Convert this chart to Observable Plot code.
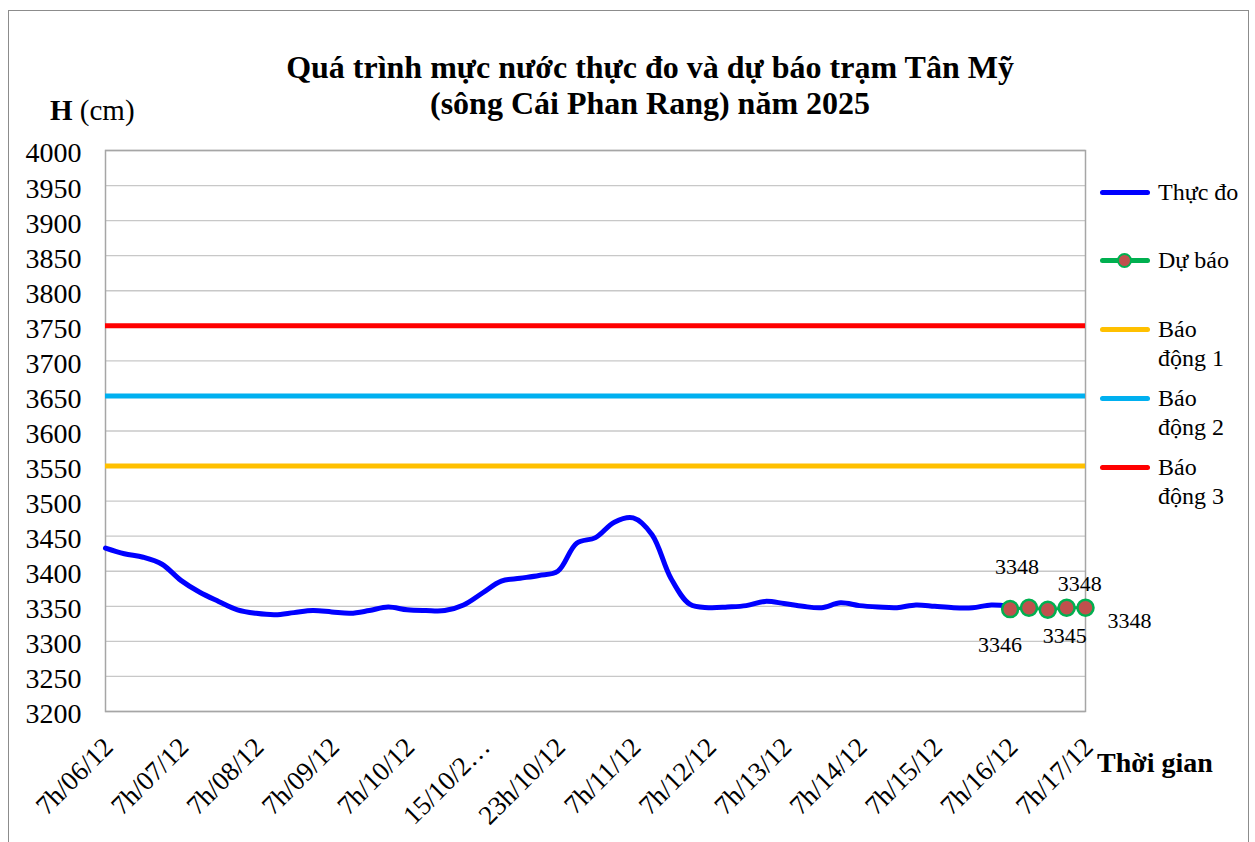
<!DOCTYPE html>
<html>
<head>
<meta charset="utf-8">
<script src="https://cdn.jsdelivr.net/npm/d3@7"></script>
<script src="https://cdn.jsdelivr.net/npm/@observablehq/plot@0.6"></script>
<style>
  html, body { margin: 0; padding: 0; background: #fff; }
  #wrap { position: relative; width: 1255px; height: 842px; overflow: hidden; font-family: "Liberation Serif", "Times New Roman", serif; color: #000; }
  #border { position: absolute; left: 8px; top: 10px; width: 1241px; height: 900px; border: 1px solid #8c8c8c; box-sizing: border-box; }
  #chart { position: absolute; left: 0; top: 0; }
  #chart svg, #chart svg text { font-family: "Liberation Serif", "Times New Roman", serif !important; }
  .abs { position: absolute; white-space: nowrap; }
  #title { left: 150px; width: 1000px; top: 49px; text-align: center; font-weight: bold; font-size: 32px; line-height: 36px; }
  #ylab { left: 50px; top: 94px; font-size: 29px; }
  #xlab { left: 1097px; top: 747px; font-size: 28px; font-weight: bold; }
  .leg { position: absolute; left: 1100px; font-size: 24px; line-height: 29px; }
  .sw { position: absolute; left: 0; width: 50px; height: 5px; border-radius: 3px; }
  .lt { position: absolute; left: 58px; top: 0; white-space: nowrap; }
</style>
</head>
<body>
<div id="wrap">
  <div id="border"></div>
  <div id="chart"></div>
  <div id="title" class="abs">Quá trình mực nước thực đo và dự báo trạm Tân Mỹ<br>(sông Cái Phan Rang) năm 2025</div>
  <div id="ylab" class="abs"><b>H</b> (cm)</div>
  <div id="xlab" class="abs">Thời gian</div>
  <div id="legend"></div>
</div>
<script>
// ---- data ----
const timeLabels = ["7h/06/12","7h/07/12","7h/08/12","7h/09/12","7h/10/12","15/10/2…","23h/10/12","7h/11/12","7h/12/12","7h/13/12","7h/14/12","7h/15/12","7h/16/12","7h/17/12"];
const pointsPerLabel = 4;
const observed = [3433,3425,3420,3410,3387,3370,3357,3345,3340,3338,
                  3341,3344,3342,3340,3344,3349,3345,3344,3344,3352,
                  3369,3386,3390,3394,3400,3440,3448,3470,3476,3452,
                  3390,3353,3348,3349,3351,3357,3354,3350,3348,3355,
                  3351,3349,3348,3352,3350,3348,3348,3352,3350];
const forecastStart = 48;
const forecast = [3346,3348,3345,3348,3348];
const alertNames = ["Báo động 1","Báo động 2","Báo động 3"];
const alertLevels = [3550,3650,3750];
const seriesNames = ["Thực đo","Dự báo"];

// ---- styles ----
const alertColors = ["#ffc000","#00b0f0","#ff0000"];
const obsColor = "#0000ff", fcColor = "#00b050", dotFill = "#c0504d";

const obsData = observed.map((v,i)=>({i, v}));
const fcData = forecast.map((v,k)=>({i: forecastStart + k, v, k}));
const nPts = (timeLabels.length - 1) * pointsPerLabel;

// label offsets for the forecast data labels (style)
const lblOffsets = [[-10,36],[-12,-41],[17,26],[13,-24],[44,13]];

const marks = [
  Plot.gridY(d3.range(3200, 4001, 50), {stroke: "#c8c8c8", strokeOpacity: 1, strokeWidth: 1.3}),
  Plot.frame({stroke: "#a6a6a6", strokeWidth: 1.5}),
  ...alertLevels.map((lv, j) => Plot.ruleY([lv], {stroke: alertColors[j], strokeWidth: 5})),
  Plot.line(obsData, {x: "i", y: "v", stroke: obsColor, strokeWidth: 5, curve: "catmull-rom"}),
  Plot.line(fcData, {x: "i", y: "v", stroke: fcColor, strokeWidth: 3}),
  Plot.dot(fcData, {x: "i", y: "v", r: 8, fill: dotFill, stroke: fcColor, strokeWidth: 2.5}),
  ...lblOffsets.map((o, k) => Plot.text(fcData.filter(d => d.k === k), {x: "i", y: "v", text: d => String(d.v), dx: o[0], dy: o[1], fontSize: 22, fill: "#000"})),
  Plot.axisY({ticks: d3.range(3200, 4001, 50), tickSize: 0, tickPadding: 24, fontSize: 28, dy: 3, tickFormat: d => String(d)}),
  Plot.axisX({ticks: d3.range(0, nPts + 1, pointsPerLabel), tickFormat: i => timeLabels[i / pointsPerLabel], tickRotate: -45, tickSize: 0, tickPadding: 31, dx: 3, fontSize: 27})
];

const chart = Plot.plot({
  width: 1255,
  height: 842,
  marginLeft: 105,
  marginRight: 170,
  marginTop: 150,
  marginBottom: 131,
  style: {fontFamily: "'Liberation Serif', 'Times New Roman', serif", fontSize: "26px", background: "transparent", color: "#000"},
  x: {domain: [0, nPts], label: null},
  y: {domain: [3200, 4000], label: null},
  marks
});
document.getElementById("chart").appendChild(chart);

// ---- legend (HTML) ----
const legend = document.getElementById("legend");
const legItems = [
  {name: seriesNames[0], color: obsColor, top: 178, dot: false},
  {name: seriesNames[1], color: fcColor, top: 246, dot: true},
  {name: alertNames[0], color: alertColors[0], top: 315},
  {name: alertNames[1], color: alertColors[1], top: 384},
  {name: alertNames[2], color: alertColors[2], top: 453}
];
legItems.forEach(it => {
  const d = document.createElement("div");
  d.className = "leg";
  d.style.top = it.top + "px";
  const parts = it.name.split(" ");
  const txt = parts.length > 2 ? parts[0] + "<br>" + parts.slice(1).join(" ") : it.name;
  d.innerHTML = `<div class="sw" style="top:12px;background:${it.color}"></div>` +
    (it.dot ? `<div style="position:absolute;left:17px;top:7px;width:11px;height:11px;border-radius:50%;background:${dotFill};border:2px solid ${fcColor}"></div>` : "") +
    `<div class="lt">${txt}</div>`;
  legend.appendChild(d);
});
</script>
</body>
</html>
